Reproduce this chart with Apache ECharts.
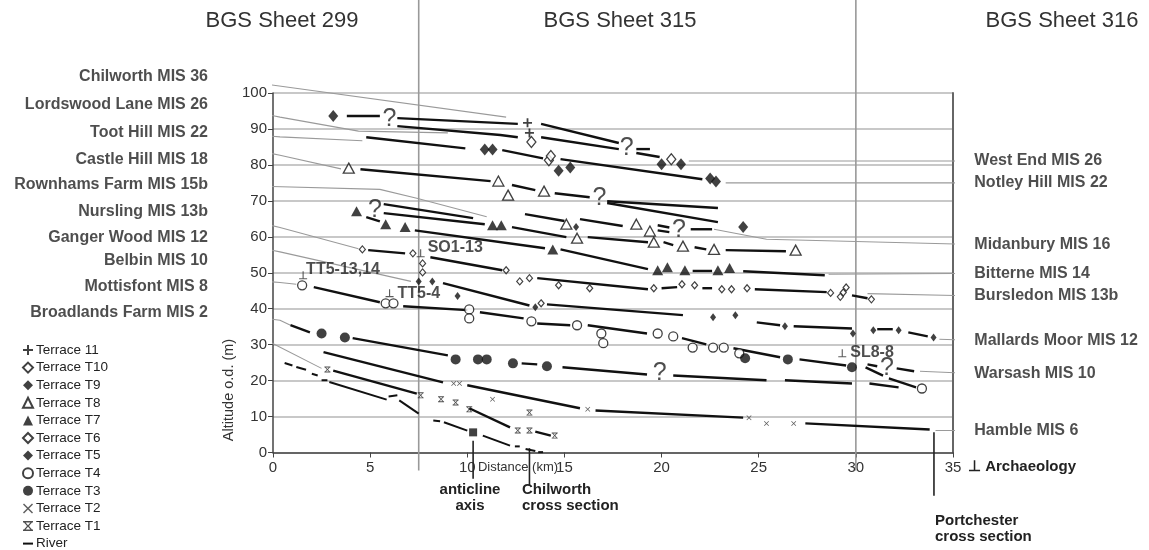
<!DOCTYPE html>
<html lang="en">
<head>
<meta charset="UTF-8">
<title>Terrace long profiles</title>
<style>
  * { margin: 0; padding: 0; }
  #main { width: 1149px; height: 550px; }
</style>
<script src="https://cdn.jsdelivr.net/npm/echarts@6/dist/echarts.min.js"></script>
</head>
<body>
<div id="main"></div>
<script>
const myChart = echarts.init(document.getElementById('main'))
const FONT = 'Liberation Sans, Arial, sans-serif'

// terrace markers, [distance km, altitude m]
const t11 = [[13.1, 91.7], [13.2, 88.9]]
const t10 = [[13.3, 86.4], [20.5, 81.6], [14.2, 81.3], [14.3, 82.5]]
const t9 = [[3.1, 93.6], [20.0, 80.2], [21.0, 80.2], [10.9, 84.3], [11.3, 84.3], [14.7, 78.4], [15.3, 79.3],
  [22.5, 76.2], [22.8, 75.4], [24.2, 62.7]]
const t8 = [[3.9, 79.1], [11.6, 75.5], [12.1, 71.6], [13.95, 72.7], [15.1, 63.5], [18.7, 63.5], [19.4, 61.6],
  [15.65, 59.6], [19.6, 58.5], [21.1, 57.4], [22.7, 56.5], [26.9, 56.3]]
const t7 = [[4.3, 67.1], [5.8, 63.5], [6.8, 62.7], [11.3, 63.2], [11.75, 63.2], [14.4, 56.5], [19.8, 50.7],
  [20.3, 51.5], [21.2, 50.7], [22.9, 50.7], [23.5, 51.3]]
const t6 = [[4.6, 56.5], [7.2, 55.4], [7.7, 52.6], [7.7, 50.1], [12.0, 50.7], [12.7, 47.6], [13.2, 48.5],
  [14.7, 46.5], [16.3, 45.7], [19.6, 45.7], [21.05, 46.8], [21.7, 46.5], [23.1, 45.4], [23.6, 45.4],
  [24.4, 45.7], [28.7, 44.4], [29.35, 44.5], [29.5, 45.9], [29.2, 43.3], [30.8, 42.6], [13.8, 41.5]]
const t5 = [[15.6, 62.7], [7.5, 47.6], [8.2, 47.6], [9.5, 43.5], [13.5, 40.4], [22.65, 37.6], [23.8, 38.2],
  [26.35, 35.1], [29.85, 33.1], [30.9, 34.0], [32.2, 34.0], [34.0, 32.0]]
const t4 = [[1.5, 46.5], [5.8, 41.5], [6.2, 41.5], [10.1, 39.8], [10.1, 37.3], [13.3, 36.5], [15.65, 35.4],
  [16.9, 33.1], [17.0, 30.4], [19.8, 33.1], [20.6, 32.3], [21.6, 29.2], [22.65, 29.2], [23.2, 29.2],
  [24.0, 27.6], [33.4, 17.8]]
const t3 = [[2.5, 33.1], [3.7, 32.0], [9.4, 25.9], [10.55, 25.9], [11.0, 25.9], [12.35, 24.8], [14.1, 24.0],
  [24.3, 26.2], [26.5, 25.9], [29.8, 23.7]]
const t2 = [[9.3, 19.2], [9.6, 19.2], [11.3, 14.8], [16.2, 12.0], [24.5, 9.7], [25.4, 8.1], [26.8, 8.1]]
const t1 = [[2.8, 23.1], [7.6, 15.9], [8.65, 14.8], [9.4, 13.9], [10.1, 12.0], [12.6, 6.1], [13.2, 6.1],
  [14.5, 4.7], [13.2, 11.1]]
const riverPoint = [[10.3, 5.6]]

// reconstructed terrace surfaces (thick black pieces)
const profiles = [
  [[3.8, 93.6], [5.5, 93.6]], [[6.4, 93.0], [12.6, 91.4]], [[13.8, 91.4], [17.8, 86.1]], [[18.7, 84.4], [19.4, 84.4]],
  [[6.4, 90.8], [11.7, 88.3], [12.6, 87.7]], [[13.8, 87.7], [17.8, 84.4]], [[18.7, 83.3], [19.9, 82.2]],
  [[4.8, 87.7], [9.9, 84.6]], [[11.8, 84.1], [13.9, 81.8]], [[14.8, 81.6], [22.1, 76.0]],
  [[4.5, 78.8], [11.2, 75.5]], [[12.3, 74.4], [13.5, 73.0]], [[14.5, 72.1], [16.3, 71.0]],
  [[17.2, 69.9], [22.9, 68.0]], [[17.2, 69.4], [22.9, 64.1]],
  [[12.97, 66.3], [15.0, 64.4]], [[15.8, 64.9], [18.0, 63.0]], [[19.8, 63.2], [20.4, 62.6]],
  [[19.8, 61.8], [20.4, 61.3]], [[21.5, 62.1], [22.6, 62.1]],
  [[5.7, 69.1], [10.3, 65.2]], [[5.7, 66.6], [10.9, 63.5]], [[4.8, 65.5], [5.5, 64.3]],
  [[7.3, 61.8], [14.0, 56.8]], [[14.8, 56.5], [19.3, 51.0]], [[21.6, 50.5], [22.6, 50.5]], [[24.2, 50.4], [28.4, 49.3]],
  [[12.3, 62.7], [15.1, 59.9]], [[16.2, 59.9], [19.3, 58.5]], [[20.1, 58.5], [20.6, 57.7]],
  [[21.7, 57.1], [22.3, 56.5]], [[23.3, 56.3], [26.4, 56.0]],
  [[4.9, 56.3], [6.8, 55.4]], [[8.1, 54.3], [11.8, 50.7]], [[13.6, 48.5], [19.3, 45.4]], [[20.0, 45.7], [20.8, 46.0]],
  [[22.1, 45.7], [22.6, 45.7]], [[24.8, 45.4], [28.5, 44.6]], [[29.8, 43.7], [30.6, 42.9]],
  [[8.75, 47.1], [13.2, 40.9]], [[14.1, 41.2], [21.1, 38.2]], [[24.9, 36.2], [26.1, 35.4]], [[26.8, 35.1], [29.8, 34.5]],
  [[31.1, 34.3], [31.9, 34.3]], [[32.7, 33.4], [33.7, 32.3]],
  [[2.1, 46.0], [5.5, 41.8]], [[6.7, 40.7], [10.0, 39.6]], [[10.65, 39.0], [12.9, 37.3]], [[13.6, 35.9], [15.3, 35.4]],
  [[16.2, 35.4], [19.25, 33.1]], [[21.05, 31.8], [22.3, 30.1]], [[23.7, 29.0], [26.1, 26.5]],
  [[27.1, 25.9], [29.5, 24.2]], [[30.6, 24.5], [31.1, 24.0]], [[32.1, 23.4], [33.0, 22.6]],
  [[30.5, 23.7], [31.4, 21.4]], [[31.7, 20.6], [33.1, 18.1]],
  [[0.9, 35.4], [1.9, 33.4]], [[4.1, 31.8], [9.0, 27.0]], [[12.8, 24.8], [13.6, 24.5]], [[14.9, 23.7], [19.25, 21.7]],
  [[20.6, 21.4], [25.4, 20.1]], [[26.35, 20.1], [29.8, 19.2]], [[30.7, 19.2], [32.2, 18.1]],
  [[2.6, 27.9], [8.75, 19.5]], [[10.0, 18.7], [15.8, 12.3]], [[16.6, 11.7], [24.2, 9.7]], [[27.4, 8.1], [33.8, 6.4]],
  [[3.1, 22.8], [7.4, 16.4]], [[10.1, 12.3], [12.2, 7.0]], [[13.5, 5.8], [14.3, 4.7]]
]

const river = [
  [[0.6, 24.9], [1.0, 24.2]], [[1.2, 23.8], [1.7, 23.0]], [[2.0, 21.9], [2.3, 21.4]], [[2.5, 20.1], [2.8, 20.1]],
  [[2.9, 19.6], [5.85, 14.7]], [[5.95, 15.6], [6.4, 15.9]], [[6.5, 14.5], [7.5, 10.8]], [[8.25, 8.9], [8.6, 8.7]],
  [[8.8, 8.4], [10.0, 6.1]], [[10.8, 4.7], [12.2, 1.9]], [[12.45, 1.7], [12.7, 1.7]], [[13.0, 1.0], [13.5, 0.4]],
  [[13.65, 0.1], [13.9, 0.1]]
]

const questionMarks = [[6.0, 92.8], [18.2, 84.7], [16.8, 70.8], [5.25, 67.4], [20.9, 61.8], [19.9, 22.0], [31.6, 23.4]]

const archaeology = [
  { name: 'SO1-13', at: [7.6, 55.4] },
  { name: 'TT5-13,14', at: [1.55, 49.3] },
  { name: 'TT5-4', at: [6.0, 44.3] },
  { name: 'SL8-8', at: [29.3, 27.6] }
]
// label nudges for the site codes, in pixels
const archOffsets = [[0, -6], [-4, -6], [1, 0], [1, -1]]

const leftLeaders = [
  { name: 'Chilworth MIS 36', path: [[-3.14, 104.5], [12.0, 93.3]] },
  { name: 'Lordswood Lane MIS 26', path: [[-3.14, 96.9], [0.36, 93.3], [4.4, 89.4], [9.0, 88.9]] },
  { name: 'Toot Hill MIS 22', path: [[-3.14, 89.1], [0.36, 87.8], [4.6, 86.7]] },
  { name: 'Castle Hill MIS 18', path: [[-3.14, 81.6], [-0.5, 83.6], [0.36, 82.7], [3.5, 78.9]] },
  { name: 'Rownhams Farm MIS 15b', path: [[-3.14, 74.4], [5.5, 73.2], [7.4, 70.7], [11.0, 65.6]] },
  { name: 'Nursling MIS 13b', path: [[-3.14, 66.9], [0.36, 62.6], [4.4, 56.7]] },
  { name: 'Ganger Wood MIS 12', path: [[-3.14, 59.7], [0.36, 55.8], [7.1, 47.6]] },
  { name: 'Belbin MIS 10', path: [[-3.14, 53.3], [-2.4, 48.4], [0.36, 47.3], [1.2, 46.8]] },
  { name: 'Mottisfont MIS 8', path: [[-3.14, 46.2], [-1.87, 38.2], [0.36, 36.8], [0.9, 35.4]] },
  { name: 'Broadlands Farm MIS 2', path: [[-3.14, 38.8], [-1.35, 34.0], [2.5, 23.4]] }
]

const rightLeaders = [
  { name: 'West End MIS 26', path: [[21.4, 81.1], [35.84, 81.1]] },
  { name: 'Notley Hill MIS 22', path: [[23.3, 75.0], [35.84, 75.0]] },
  { name: 'Midanbury MIS 16', path: [[22.7, 62.1], [25.4, 59.3], [35.84, 57.9]] },
  { name: 'Bitterne MIS 14', path: [[28.6, 49.6], [35.84, 49.8]] },
  { name: 'Bursledon MIS 13b', path: [[30.6, 44.2], [35.84, 43.6]] },
  { name: 'Mallards Moor MIS 12', path: [[34.3, 31.5], [35.84, 31.2]] },
  { name: 'Warsash MIS 10', path: [[33.3, 22.6], [35.84, 22.0]] },
  { name: 'Hamble MIS 6', path: [[34.1, 6.1], [35.84, 6.1]] }
]

const sheetBounds = [[[7.5, 126], [7.5, -5]], [[30, 126], [30, -5]]]
const sections = [[[10.3, 3.3], [10.3, -7.3]], [[13.2, 1.2], [13.2, -9.2]], [[34.02, 5.6], [34.02, -12]]]

const legendNames = ['Terrace 11', 'Terrace T10', 'Terrace T9', 'Terrace T8', 'Terrace T7', 'Terrace T6',
  'Terrace T5', 'Terrace T4', 'Terrace T3', 'Terrace T2', 'Terrace T1', 'River']

const PLUS = 'path://M4,0H6V4H10V6H6V10H4V6H0V4H4Z'
const CROSS = 'path://M0,1L1,0L5,4L9,0L10,1L6,5L10,9L9,10L5,6L1,10L0,9L4,5Z'
const CROSS_BAR = 'path://M0,0H10V1.6H0Z M0,8.4H10V10H0Z M1,1.6L2.6,1.6L5,4.2L7.4,1.6L9,1.6L6,5L9,8.4L7.4,8.4L5,5.8L2.6,8.4L1,8.4L4,5Z'
const DASH = 'path://M0,4H10V6H0Z'
const PERP = 'path://M4.3,0H5.7V8.6H10V10H0V8.6H4.3Z'
const SQUARE = 'path://M0,0H10V10H0Z'

const lineSeries = (pts, color, width, name) => ({
  type: 'line', name, data: pts, symbol: 'none', clip: false, silent: true, z: 3,
  itemStyle: { color }, lineStyle: { color, width, cap: 'butt' }, animation: false
})

const solid = { color: '#111' }
const hollow = { color: '#fff', borderColor: '#111', borderWidth: 1.3 }
const marker = (name, data, symbol, size, style) => ({
  type: 'scatter', name, data, symbol, symbolSize: size, itemStyle: style, z: 5, silent: true, animation: false
})

const series = []
sheetBounds.forEach(p => series.push(lineSeries(p, '#999', 1.6)))
leftLeaders.forEach(l => series.push(lineSeries(l.path, '#9a9a9a', 1.1)))
rightLeaders.forEach(l => series.push(lineSeries(l.path, '#9a9a9a', 1.1)))
sections.forEach(p => series.push(lineSeries(p, '#222', 1.6)))
profiles.forEach(p => series.push(lineSeries(p, '#111', 2.4)))
river.forEach(p => series.push(lineSeries(p, '#111', 2, 'River')))

series.push(
  marker('Terrace 11', t11, PLUS, 9, solid),
  marker('Terrace T10', t10, 'diamond', [9, 11], hollow),
  marker('Terrace T9', t9, 'diamond', [10, 12], solid),
  marker('Terrace T8', t8, 'triangle', [11, 10], hollow),
  marker('Terrace T7', t7, 'triangle', [11, 10], solid),
  marker('Terrace T6', t6, 'diamond', [6, 7], { color: '#fff', borderColor: '#111', borderWidth: 1.2 }),
  marker('Terrace T5', t5, 'diamond', [6, 8], solid),
  marker('Terrace T4', t4, 'circle', 9, hollow),
  marker('Terrace T3', t3, 'circle', 10, solid),
  marker('Terrace T2', t2, CROSS, 5, { color: '#333' }),
  marker('Terrace T1', t1, CROSS_BAR, 6, { color: '#222' }),
  marker('River', riverPoint, SQUARE, 8, solid)
)

// question marks
series.push({
  type: 'scatter', data: questionMarks, symbolSize: 0, silent: true, z: 6, animation: false,
  label: { show: true, position: 'inside', formatter: '?', fontSize: 25, color: '#222', fontFamily: FONT }
})

// archaeology sites
series.push({
  type: 'scatter', symbol: PERP, symbolSize: 8, itemStyle: { color: '#333' }, z: 6, silent: true, animation: false,
  data: archaeology.map((a, i) => ({ value: a.at, name: a.name, label: { offset: archOffsets[i] } })),
  label: {
    show: true, position: 'right', distance: 3, formatter: '{b}', fontSize: 16,
    fontWeight: 'bold', color: '#222', fontFamily: FONT
  }
})

// left and right labels at leader ends
series.push({
  type: 'scatter', symbolSize: 0, clip: false, silent: true, animation: false,
  data: leftLeaders.map(l => ({ value: l.path[0], name: l.name })),
  label: { show: true, position: 'left', distance: 4, formatter: '{b}', fontSize: 16, fontWeight: 'bold', color: '#222', fontFamily: FONT }
})
series.push({
  type: 'scatter', symbolSize: 0, clip: false, silent: true, animation: false,
  data: rightLeaders.map(l => ({ value: l.path[l.path.length - 1], name: l.name })),
  label: { show: true, position: 'right', distance: 5, formatter: '{b}', fontSize: 16, fontWeight: 'bold', color: '#222', fontFamily: FONT }
})

const legendIcons = [PLUS, 'diamond', 'diamond', 'triangle', 'triangle', 'diamond', 'diamond', 'circle', 'circle', CROSS, CROSS_BAR, DASH]

const option = {
  backgroundColor: '#fff',
  animation: false,
  textStyle: { fontFamily: FONT },
  grid: { left: 273, right: 196, top: 93, bottom: 97.5 },
  xAxis: {
    type: 'value', min: 0, max: 35, interval: 5,
    axisLine: { lineStyle: { color: '#444', width: 1.5 } },
    axisTick: { length: 5, lineStyle: { color: '#444' } },
    axisLabel: { fontSize: 15, color: '#333', margin: 8 },
    splitLine: { show: false }
  },
  yAxis: [{
    type: 'value', min: 0, max: 100, interval: 10,
    axisLine: { show: true, lineStyle: { color: '#444', width: 1.5 } },
    axisTick: { show: true, length: 5, lineStyle: { color: '#444' } },
    axisLabel: { fontSize: 15, color: '#333', margin: 6 },
    splitLine: { lineStyle: { color: '#c8c8c8', width: 2 } }
  }, {
    type: 'value', min: 0, max: 100, position: 'right',
    axisLine: { show: true, lineStyle: { color: '#666', width: 2 } },
    axisTick: { show: false }, axisLabel: { show: false }, splitLine: { show: false }
  }],
  legend: {
    orient: 'vertical', left: 22, top: 343, height: 240, itemWidth: 10, itemHeight: 10, itemGap: 3.6,
    padding: 0, selectedMode: false,
    textStyle: { fontSize: 13.5, color: '#222', padding: [0, 0, 0, -2] },
    data: legendNames.map((n, i) => ({ name: n, icon: legendIcons[i] }))
  },
  graphic: [
    { type: 'text', x: 282, y: 21, style: { text: 'BGS Sheet 299', fontSize: 22, fill: '#333', align: 'center', verticalAlign: 'middle', fontFamily: FONT } },
    { type: 'text', x: 620, y: 21, style: { text: 'BGS Sheet 315', fontSize: 22, fill: '#333', align: 'center', verticalAlign: 'middle', fontFamily: FONT } },
    { type: 'text', x: 1062, y: 21, style: { text: 'BGS Sheet 316', fontSize: 22, fill: '#333', align: 'center', verticalAlign: 'middle', fontFamily: FONT } },
    { type: 'text', x: 518, y: 467, style: { text: 'Distance (km)', fontSize: 13, fill: '#333', align: 'center', verticalAlign: 'middle', fontFamily: FONT } },
    { type: 'text', x: 229, y: 390, rotation: Math.PI / 2, style: { text: 'Altitude o.d. (m)', fontSize: 14.5, fill: '#333', align: 'center', verticalAlign: 'middle', fontFamily: FONT } },
    { type: 'text', x: 470, y: 482, style: { text: 'anticline\naxis', fontSize: 15, fontWeight: 'bold', lineHeight: 16, fill: '#222', align: 'center', fontFamily: FONT } },
    { type: 'text', x: 522, y: 482, style: { text: 'Chilworth\ncross section', fontSize: 15, fontWeight: 'bold', lineHeight: 16, fill: '#222', fontFamily: FONT } },
    { type: 'text', x: 935, y: 513, style: { text: 'Portchester\ncross section', fontSize: 15, fontWeight: 'bold', lineHeight: 16, fill: '#222', fontFamily: FONT } },
    { type: 'text', x: 968, y: 467, style: { text: '⊥ Archaeology', fontSize: 15, fontWeight: 'bold', fill: '#222', verticalAlign: 'middle', fontFamily: FONT } }
  ],
  series
}

myChart.setOption(option)
</script>
</body>
</html>
